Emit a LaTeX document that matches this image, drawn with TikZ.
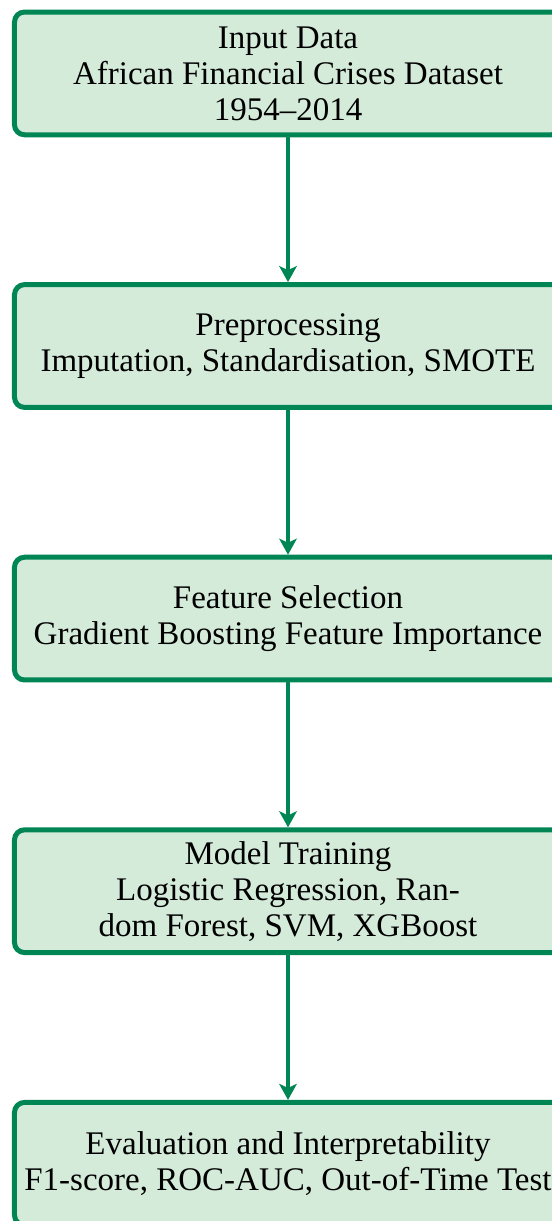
\documentclass[tikz,border=0pt]{standalone}
\usepackage{fontspec}
\setmainfont{Liberation Serif}
\usetikzlibrary{arrows.meta}
\definecolor{stageedge}{RGB}{0,134,84}
\definecolor{stagefill}{RGB}{213,235,218}
\tikzset{
  stagebox/.style={draw=stageedge, fill=stagefill, line width=2pt,
    rounded corners=4pt, minimum width=218.8pt, minimum height=49.1pt,
    inner sep=0pt, align=center, font=\fontsize{13.2}{14.4}\selectfont},
  flowarrow/.style={draw=stageedge, line width=1.8pt,
    -{Stealth[length=6.4pt,width=7pt,inset=1.6pt]}}
}
\begin{document}
\begin{tikzpicture}[x=0.4pt,y=-0.4pt]
  \path[use as bounding box] (0,0) rectangle (552,1221);
  \clip (0,0) rectangle (552,1221);
  \node[stagebox] (input) at (288,73.4)
    {Input Data\\African Financial Crises Dataset\\1954--2014};
  \node[stagebox] (prep) at (288,346)
    {Preprocessing\\Imputation, Standardisation, SMOTE};
  \node[stagebox] (feat) at (288,618.6)
    {Feature Selection\\Gradient Boosting Feature Importance};
  \node[stagebox] (train) at (288,891.2)
    {Model Training\\Logistic Regression, Ran-\\dom Forest, SVM, XGBoost};
  \node[stagebox] (eval) at (288,1163.8)
    {Evaluation and Interpretability\\F1-score, ROC-AUC, Out-of-Time Test};
  \draw[flowarrow] (input) -- (prep);
  \draw[flowarrow] (prep) -- (feat);
  \draw[flowarrow] (feat) -- (train);
  \draw[flowarrow] (train) -- (eval);
\end{tikzpicture}
\end{document}
